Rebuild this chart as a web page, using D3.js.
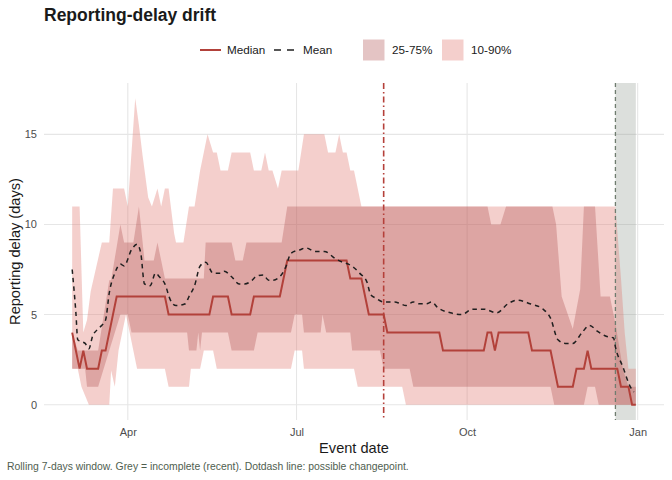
<!DOCTYPE html>
<html>
<head>
<meta charset="utf-8">
<script src="https://cdn.jsdelivr.net/npm/d3@7"></script>
<style>
  html, body { margin: 0; padding: 0; background: #fff; }
  svg { display: block; font-family: "Liberation Sans", Arial, sans-serif; }
</style>
</head>
<body>
<div id="chart"></div>
<script>
// Day offsets from the first event date (2023-03-02), value in days of delay
const firstDay = [2023, 2, 2];
const changepointDay = 168;
const incompleteFromDay = 293;
const lastDay = 304;

const median = [[0,4],[4,2],[6,3],[8,2],[14,2],[16,3],[18,3],[24,6],[50,6],[52,5],[74,5],[76,6],[84,6],[86,5],
  [96,5],[98,6],[112,6],[116,8],[148,8],[150,7],[156,7],[160,5],[168,5],[170,4],[198,4],[200,3],[222,3],[224,4],
  [226,4],[228,3],[230,4],[246,4],[248,3],[258,3],[262,1],[270,1],[272,2],[276,2],[278,3],[280,2],[294,2],[296,1],
  [300,1],[302,0],[304,0]];

const mean = [[0,7.5],[2,5.1],[3,3.6],[5,3.5],[7,3.4],[9,3.1],[11,3.8],[15,4.3],[18,4.7],[20,6.2],[23,7.3],[26,7.8],
  [28,7.7],[32,8.6],[35,8.9],[37,8.4],[39,6.7],[42,6.6],[45,7.3],[47,7.1],[50,6.7],[53,5.8],[56,5.5],[61,5.6],
  [63,6.0],[66,6.6],[69,7.7],[72,7.9],[76,7.3],[80,7.3],[82,7.4],[86,7.1],[90,6.7],[93,6.7],[97,6.9],[99,7.1],
  [103,7.2],[106,6.9],[108,6.9],[112,7.1],[115,7.6],[118,8.4],[123,8.6],[126,8.7],[131,8.5],[136,8.5],[142,8.1],
  [146,7.9],[149,7.8],[152,7.6],[155,7.3],[159,6.8],[161,6.1],[164,5.9],[168,5.7],[171,5.7],[174,5.7],[177,5.6],
  [180,5.5],[184,5.7],[187,5.6],[191,5.6],[194,5.7],[197,5.4],[204,5.1],[210,5.0],[216,5.3],[222,5.3],[229,5.1],
  [235,5.6],[240,5.8],[247,5.6],[254,5.3],[258,4.8],[262,3.6],[266,3.4],[270,3.4],[275,4.0],[279,4.4],[283,4.1],
  [288,3.8],[292,3.7],[293,3.2],[297,2.1],[301,1.0],[303,0.7]];

const q75 = [[0,4],[3,3],[14,3],[20,6.9],[21,6.9],[26,10],[28,9],[33,9],[36,11],[39,8],[44,8],[46,9],[48,8],[50,7],
  [71,7],[72,9],[86,9],[88,8],[92,8],[94,9],[113,9],[116,11],[224,11],[226,10],[231,10],[234,11],[259,11],[261,10],
  [264,6],[270,4.2],[274,6.4],[276,11],[282,11],[285,6],[290,6],[293,4.5],[297,2],[300,1],[304,1]];

const q25 = [[0,2],[7,2],[8,1],[14,1],[20,3],[26,5],[30,5],[32,4],[62,4],[63,3],[67,3],[68,4],[69,3],[70,4],[84,4],
  [86,3],[98,3],[100,4],[118,4],[120,5],[124,5],[125,4],[134,4],[135,5],[137,4],[150,4],[151,3],[166,3],[168,2],
  [182,2],[184,1],[258,1],[260,0],[276,0],[278,1],[282,1],[284,0],[304,0]];

const q90 = [[0,11],[4,11],[6,4],[8,4.7],[10,6.3],[16,9],[20,9],[22,12],[28,12],[30,11],[34,17],[36,15.5],[38,13.8],
  [41,11.5],[43,11],[46,12],[48,11],[50,12],[52,12],[55,9.5],[56,9],[60,9],[63,11],[66,11],[69,13],[73,15],[76,14],
  [78,14],[80,13],[84,13],[86,14],[96,14],[98,13],[102,13],[104,14],[106,13],[108,13],[111,12],[113,13],[122,13],
  [125,15],[136,15],[138,14],[142,14],[144,15],[146,14],[148,14],[150,13],[152,13],[156,11],[293,11],[296,7],
  [298,4],[300,2],[304,2]];

const q10 = [[0,2],[3,2],[5,1],[9,0],[20,0],[21,1.9],[23,1],[25,3],[29,5],[31,4],[35,2],[50,2],[52,1],[63,1],[64,2],
  [69,2],[71,3],[76,3],[78,2],[118,2],[120,3],[124,3],[125,2],[152,2],[154,1],[178,1],[180,0],[304,0]];

const yTicks = [0, 5, 10, 15];
const xTickLabels = ["2023-04-01", "2023-07-01", "2023-10-01", "2024-01-01"];
const legendLines = ["Median", "Mean"];
const legendBands = ["25-75%", "10-90%"];

const width = 672, height = 480;
const margin = {top: 83, right: 8, bottom: 60, left: 44};

const toDate = d => new Date(firstDay[0], firstDay[1], firstDay[2] + d);

const svg = d3.select("#chart").append("svg")
  .attr("width", width)
  .attr("height", height);

// x domain padded 5% each side like ggplot
let t0 = +toDate(0), t1 = +toDate(lastDay);
let pad = (t1 - t0) * 0.05;
let x = d3.scaleTime()
  .domain([new Date(t0 - pad), new Date(t1 + pad)])
  .range([margin.left, width - margin.right]);

let yMax = d3.max(q90, d => d[1]);
let y = d3.scaleLinear()
  .domain([-0.05 * yMax, yMax * 1.05])
  .range([height - margin.bottom, margin.top]);

let px = d => x(toDate(d[0]));
let py = d => y(d[1]);

// grid
let grid = svg.append("g");
grid.selectAll("line.h").data(yTicks).enter().append("line")
  .attr("x1", margin.left).attr("x2", width - margin.right)
  .attr("y1", d => y(d)).attr("y2", d => y(d))
  .attr("stroke", "#e6e6e6").attr("stroke-width", 1.1);
grid.selectAll("line.v").data(xTickLabels).enter().append("line")
  .attr("y1", margin.top).attr("y2", height - margin.bottom)
  .attr("x1", d => x(new Date(d + "T00:00"))).attr("x2", d => x(new Date(d + "T00:00")))
  .attr("stroke", "#e6e6e6").attr("stroke-width", 1.1);

// incomplete (recent) window
svg.append("rect")
  .attr("x", x(toDate(incompleteFromDay)))
  .attr("width", x(toDate(lastDay)) - x(toDate(incompleteFromDay)))
  .attr("y", margin.top)
  .attr("height", height - margin.bottom - margin.top)
  .attr("fill", "rgba(140,150,140,0.3)");

// quantile bands
let bandPath = (upper, lower) =>
  d3.line().x(px).y(py)(upper.concat(lower.slice().reverse())) + "Z";

svg.append("path")
  .attr("d", bandPath(q90, q10))
  .attr("fill", "rgba(224,118,109,0.35)");
svg.append("path")
  .attr("d", bandPath(q75, q25))
  .attr("fill", "rgba(178,87,87,0.35)");

// changepoint + incomplete boundary
svg.append("line")
  .attr("x1", x(toDate(changepointDay))).attr("x2", x(toDate(changepointDay)))
  .attr("y1", margin.top).attr("y2", height - margin.bottom)
  .attr("stroke", "#b5403a").attr("stroke-width", 1.6)
  .attr("stroke-dasharray", "6,3,1.5,3");
svg.append("line")
  .attr("x1", x(toDate(incompleteFromDay))).attr("x2", x(toDate(incompleteFromDay)))
  .attr("y1", margin.top).attr("y2", height - margin.bottom)
  .attr("stroke", "#6f7c6f").attr("stroke-width", 1.3)
  .attr("stroke-dasharray", "4,3");

// median and mean
svg.append("path")
  .attr("d", d3.line().x(px).y(py)(median))
  .attr("fill", "none").attr("stroke", "#b2413a").attr("stroke-width", 2);
svg.append("path")
  .attr("d", d3.line().x(px).y(py).curve(d3.curveMonotoneX)(mean))
  .attr("fill", "none").attr("stroke", "#1f1f1f").attr("stroke-width", 1.5)
  .attr("stroke-dasharray", "4.5,4");

// axes
let yAxis = svg.append("g")
  .attr("transform", "translate(" + margin.left + ",0)")
  .call(d3.axisLeft(y).tickValues(yTicks).tickSize(0).tickPadding(7));
yAxis.select(".domain").remove();
yAxis.selectAll("text").attr("font-size", 11).attr("fill", "#4d4d4d")
  .attr("font-family", "Liberation Sans, Arial, sans-serif");

let xAxis = svg.append("g")
  .attr("transform", "translate(0," + (height - margin.bottom) + ")")
  .call(d3.axisBottom(x).tickValues(xTickLabels.map(d => new Date(d + "T00:00")))
    .tickFormat(d3.timeFormat("%b")).tickSize(0).tickPadding(8));
xAxis.select(".domain").remove();
xAxis.selectAll("text").attr("font-size", 11).attr("fill", "#4d4d4d")
  .attr("font-family", "Liberation Sans, Arial, sans-serif");

svg.append("text")
  .attr("x", (margin.left + width - margin.right) / 2).attr("y", 453)
  .attr("text-anchor", "middle").attr("font-size", 14.6).attr("fill", "#1a1a1a")
  .text("Event date");

svg.append("text")
  .attr("transform", "translate(20," + ((margin.top + height - margin.bottom) / 2) + ") rotate(-90)")
  .attr("text-anchor", "middle").attr("font-size", 14.6).attr("fill", "#1a1a1a")
  .text("Reporting delay (days)");

svg.append("text")
  .attr("x", margin.left).attr("y", 21)
  .attr("font-size", 17.5).attr("font-weight", "bold").attr("fill", "#1a1a1a")
  .text("Reporting-delay drift");

svg.append("text")
  .attr("x", 7).attr("y", 470)
  .attr("font-size", 10.4).attr("fill", "#4f5e4f")
  .text("Rolling 7-days window. Grey = incomplete (recent). Dotdash line: possible changepoint.");

// legend
let legend = svg.append("g").attr("font-size", 11.7).attr("fill", "#1a1a1a");
let legY = 50;
let lineKeys = [
  {x: 200, tx: 227, label: legendLines[0], stroke: "#b2413a", w: 2, dash: null},
  {x: 274, tx: 303, label: legendLines[1], stroke: "#1f1f1f", w: 1.5, dash: "7,6"}
];
lineKeys.forEach(k => {
  legend.append("line")
    .attr("x1", k.x).attr("x2", k.x + 21).attr("y1", legY).attr("y2", legY)
    .attr("stroke", k.stroke).attr("stroke-width", k.w)
    .attr("stroke-dasharray", k.dash);
  legend.append("text").attr("x", k.tx).attr("y", legY).attr("dy", "0.35em").text(k.label);
});
let boxKeys = [
  {x: 363, tx: 392, label: legendBands[0], fill: "rgba(178,87,87,0.35)"},
  {x: 442, tx: 471, label: legendBands[1], fill: "rgba(224,118,109,0.35)"}
];
boxKeys.forEach(k => {
  legend.append("rect")
    .attr("x", k.x).attr("y", legY - 10.5).attr("width", 21.5).attr("height", 21)
    .attr("fill", k.fill);
  legend.append("text").attr("x", k.tx).attr("y", legY).attr("dy", "0.35em").text(k.label);
});
</script>
</body>
</html>
